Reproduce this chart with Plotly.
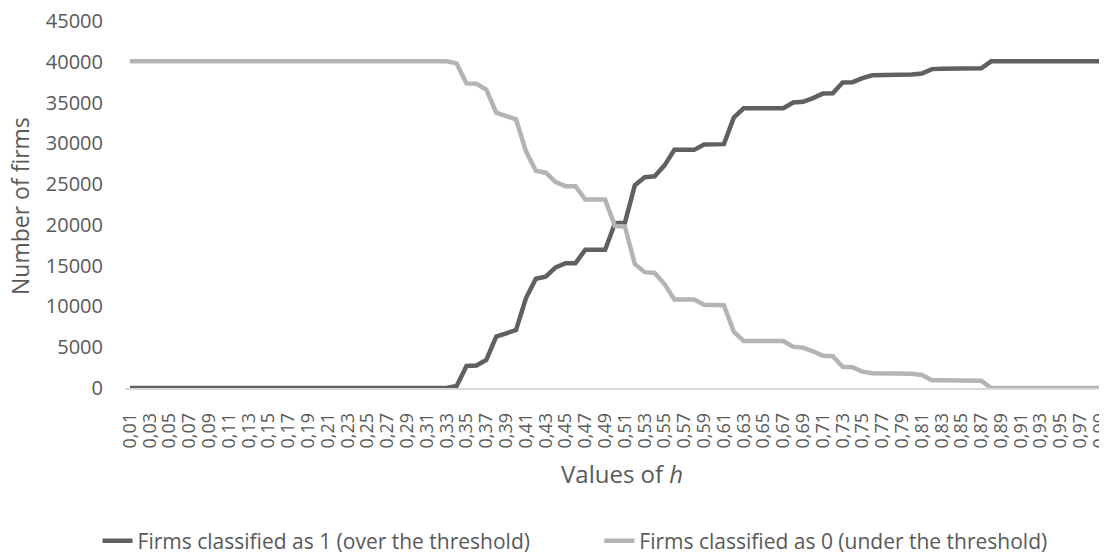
import plotly.graph_objects as go

h_labels = [
    "0,01", "0,02", "0,03", "0,04", "0,05", "0,06", "0,07", "0,08", "0,09", "0,1",
    "0,11", "0,12", "0,13", "0,14", "0,15", "0,16", "0,17", "0,18", "0,19", "0,2",
    "0,21", "0,22", "0,23", "0,24", "0,25", "0,26", "0,27", "0,28", "0,29", "0,3",
    "0,31", "0,32", "0,33", "0,34", "0,35", "0,36", "0,37", "0,38", "0,39", "0,4",
    "0,41", "0,42", "0,43", "0,44", "0,45", "0,46", "0,47", "0,48", "0,49", "0,5",
    "0,51", "0,52", "0,53", "0,54", "0,55", "0,56", "0,57", "0,58", "0,59", "0,6",
    "0,61", "0,62", "0,63", "0,64", "0,65", "0,66", "0,67", "0,68", "0,69", "0,7",
    "0,71", "0,72", "0,73", "0,74", "0,75", "0,76", "0,77", "0,78", "0,79", "0,8",
    "0,81", "0,82", "0,83", "0,84", "0,85", "0,86", "0,87", "0,88", "0,89", "0,9",
    "0,91", "0,92", "0,93", "0,94", "0,95", "0,96", "0,97", "0,98", "0,99",
]

tick_labels = [
    "0,01", "0,03", "0,05", "0,07", "0,09", "0,11", "0,13", "0,15", "0,17", "0,19",
    "0,21", "0,23", "0,25", "0,27", "0,29", "0,31", "0,33", "0,35", "0,37", "0,39",
    "0,41", "0,43", "0,45", "0,47", "0,49", "0,51", "0,53", "0,55", "0,57", "0,59",
    "0,61", "0,63", "0,65", "0,67", "0,69", "0,71", "0,73", "0,75", "0,77", "0,79",
    "0,81", "0,83", "0,85", "0,87", "0,89", "0,91", "0,93", "0,95", "0,97", "0,99",
]

class_1 = [
    0, 0, 0, 0, 0, 0, 0, 0, 0, 0,
    0, 0, 0, 0, 0, 0, 0, 0, 0, 0,
    0, 0, 0, 0, 0, 0, 0, 0, 0, 0,
    0, 0, 0, 250, 2700, 2750, 3450, 6300, 6700, 7100,
    11000, 13400, 13650, 14800, 15300, 15300, 16950, 16950, 16950, 20200,
    20250, 24850, 25850, 25950, 27300, 29200, 29200, 29200, 29850, 29850,
    29900, 33150, 34300, 34300, 34300, 34300, 34300, 35000, 35100, 35550,
    36100, 36150, 37450, 37500, 38000, 38350, 38350, 38350, 38400, 38450,
    38550, 39100, 39150, 39150, 39150, 39150, 39200, 40050, 40050, 40050,
    40050, 40050, 40050, 40050, 40050, 40050, 40050, 40050, 40050,
]

class_0 = [
    40050, 40050, 40050, 40050, 40050, 40050, 40050, 40050, 40050, 40050,
    40050, 40050, 40050, 40050, 40050, 40050, 40050, 40050, 40050, 40050,
    40050, 40050, 40050, 40050, 40050, 40050, 40050, 40050, 40050, 40050,
    40050, 40050, 40050, 39800, 37350, 37300, 36600, 33750, 33350, 32950,
    29050, 26650, 26400, 25250, 24750, 24750, 23100, 23100, 23100, 19850,
    19800, 15200, 14200, 14100, 12750, 10850, 10850, 10850, 10200, 10200,
    10150, 6900, 5750, 5750, 5750, 5750, 5750, 5050, 4950, 4500,
    3950, 3900, 2600, 2550, 2000, 1800, 1800, 1800, 1800, 1750,
    1600, 950, 950, 950, 950, 950, 900, 0, 0, 0,
    0, 0, 0, 0, 0, 0, 0, 0, 0,
]

y_ticks = [0, 5000, 10000, 15000, 20000, 25000, 30000, 35000, 40000, 45000]
y_tick_text = ["0", "5000", "10000", "15000", "20000", "25000", "30000", "35000", "40000", "45000"]

name_1 = "Firms classified as 1 (over the threshold)"
name_0 = "Firms classified as 0 (under the threshold)"

FONT = "Open Sans"
TXT = "#595959"
# page has an 8px body margin, so the figure is sized to fit inside the window
FIG_W, FIG_H = 1099, 545
M_L, M_R, M_T, M_B = 117, 2, 13, 165
PLOT_H = FIG_H - M_T - M_B
PLOT_W = FIG_W - M_L - M_R

fig = go.Figure()
fig.add_trace(go.Scatter(x=h_labels, y=class_1, mode="lines", name=name_1,
                         legend="legend",
                         line=dict(color="#606060", width=4.5)))
fig.add_trace(go.Scatter(x=h_labels, y=class_0, mode="lines", name=name_0,
                         legend="legend2",
                         line=dict(color="#b4b4b4", width=4.5)))

legend_common = dict(orientation="h", yanchor="middle", y=-153 / PLOT_H,
                     xanchor="left", font=dict(size=21, color=TXT),
                     bgcolor="rgba(0,0,0,0)")

fig.update_layout(
    width=FIG_W, height=FIG_H,
    margin=dict(l=M_L, r=M_R, t=M_T, b=M_B, autoexpand=False),
    paper_bgcolor="white", plot_bgcolor="white",
    font=dict(family=FONT, color=TXT, size=20),
    showlegend=True,
    legend=dict(x=-0.028, **legend_common),
    legend2=dict(x=0.484, **legend_common),
    xaxis=dict(type="category", categoryorder="array", categoryarray=h_labels,
               tickmode="array", tickvals=tick_labels, ticktext=tick_labels,
               tickangle=-90, tickfont=dict(size=18, color=TXT),
               ticks="outside", ticklen=16, tickcolor="rgba(0,0,0,0)",
               showgrid=False, showline=True, linecolor="#d9d9d9", linewidth=1.5,
               zeroline=False, range=[-0.5, 98.5]),
    yaxis=dict(range=[0, 45000], tickmode="array", tickvals=y_ticks, ticktext=y_tick_text,
               showgrid=False, zeroline=False, ticklabeloverflow="allow",
               showline=False, tickfont=dict(size=20, color=TXT), ticks="",
               ticklabelstandoff=21),
)

fig.add_annotation(text="Number of firms", xref="paper", yref="paper",
                   x=-105 / PLOT_W, y=182 / PLOT_H, textangle=-90,
                   xanchor="center", yanchor="middle",
                   showarrow=False, font=dict(size=23, color=TXT))

fig.add_annotation(text="Values of <i>h</i>", xref="paper", yref="paper",
                   x=497 / PLOT_W, y=-85 / PLOT_H,
                   xanchor="center", yanchor="middle",
                   showarrow=False, font=dict(size=24, color=TXT))

fig.write_html("out.html")
